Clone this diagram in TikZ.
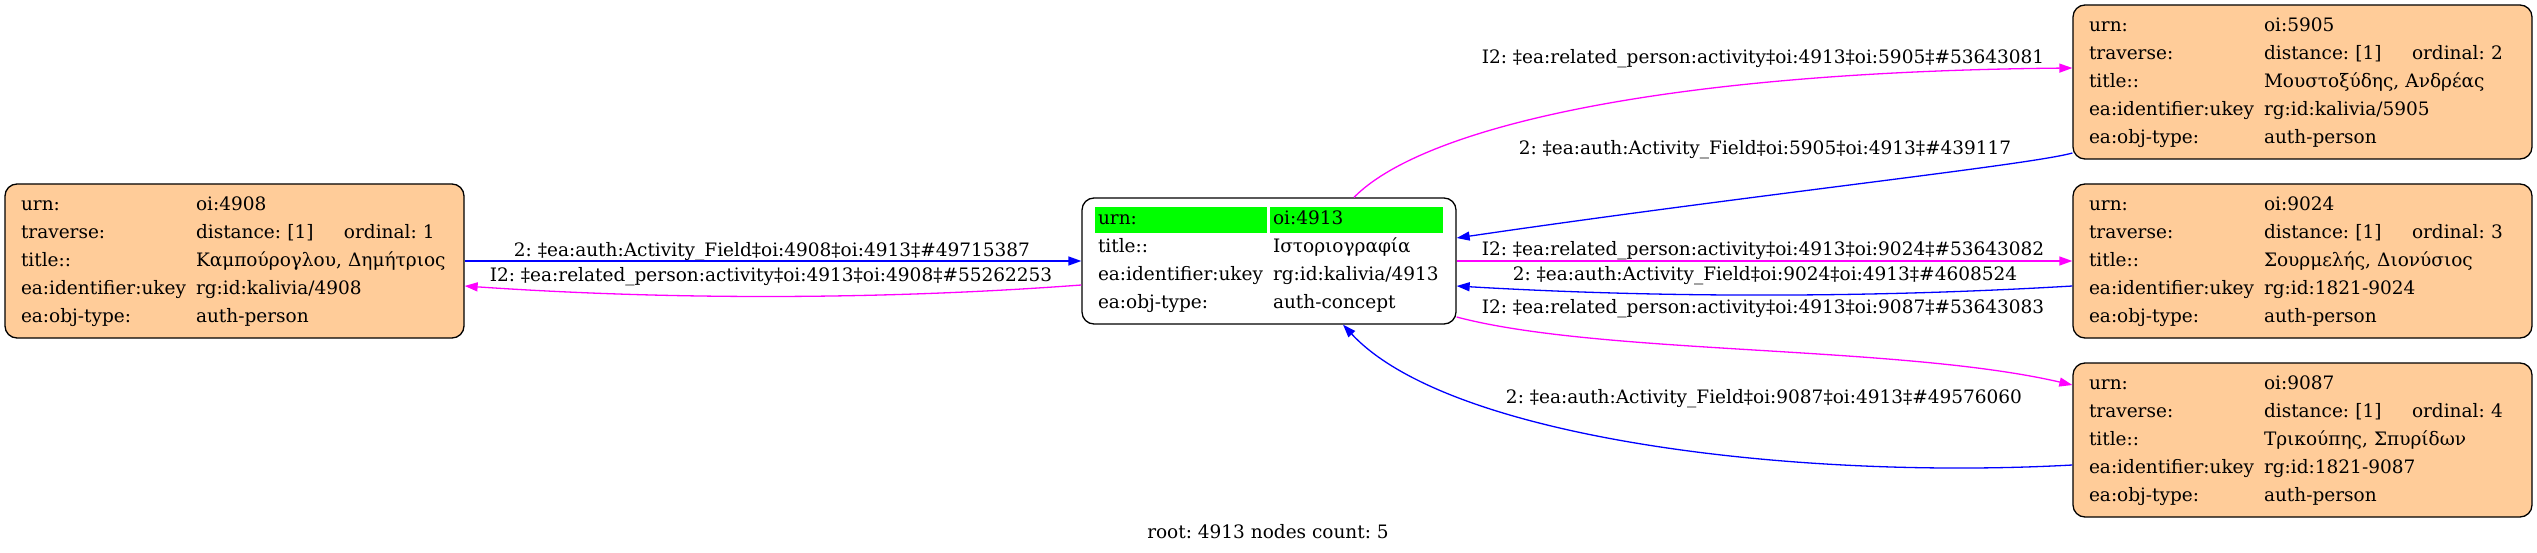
\documentclass[tikz,border=0pt]{standalone}
\usepackage{fontspec}
\setmainfont{DejaVu Serif}
\usepackage{tikz}
\usetikzlibrary{arrows.meta}

\definecolor{peach}{HTML}{FFCC99}
\definecolor{urngreen}{HTML}{00FF00}
\definecolor{authblue}{HTML}{0000FF}
\definecolor{relmagenta}{HTML}{FF00FF}

\newcommand{\gvfont}{\fontsize{18.5}{28}\selectfont\frenchspacing}
\newcommand{\urncell}[2]{\hspace*{-3pt}\colorbox{urngreen}{\rule[-8pt]{0pt}{26pt}\makebox[#1][l]{\hspace{3pt}#2}}}
\setlength{\fboxsep}{0pt}

\tikzset{
  person/.style={draw=black, fill=peach, line width=1.3pt, rounded corners=12pt,
    inner xsep=16pt, inner ysep=0pt, text width=427pt, minimum height=154pt, align=left},
  concept/.style={draw=black, fill=white, line width=1.3pt, rounded corners=12pt,
    inner xsep=16pt, inner ysep=0pt, text width=342pt, minimum height=126pt, align=left},
  rel/.style={draw=relmagenta, line width=1.3pt},
  auth/.style={draw=authblue, line width=1.3pt},
  lbl/.style={inner sep=0pt, anchor=base},
}

\begin{document}
\frenchspacing
\begin{tikzpicture}[x=1pt, y=-1pt, font=\gvfont, >={Triangle[length=13pt,width=9pt]}]
\useasboundingbox (0,0) rectangle (2537,553);

\node[person] (n4908) at (234.5,261) {\begin{tabular}{@{}p{175pt}@{}l@{}}
urn: & oi:4908\\
traverse: & \makebox[148pt][l]{distance: [1]}ordinal: 1\\
title:: & Καμπούρογλου, Δημήτριος\\
ea:identifier:ukey & rg:id:kalivia/4908\\
ea:obj-type: & auth-person
\end{tabular}};

\node[concept] (n4913) at (1269,261) {\begin{tabular}{@{}p{175pt}@{}l@{}}
\urncell{172pt}{urn:} & \urncell{173pt}{oi:4913}\\
title:: & Ιστοριογραφία\\
ea:identifier:ukey & rg:id:kalivia/4913\\
ea:obj-type: & auth-concept
\end{tabular}};

\node[person] (n5905) at (2302.5,82) {\begin{tabular}{@{}p{175pt}@{}l@{}}
urn: & oi:5905\\
traverse: & \makebox[148pt][l]{distance: [1]}ordinal: 2\\
title:: & Μουστοξύδης, Ανδρέας\\
ea:identifier:ukey & rg:id:kalivia/5905\\
ea:obj-type: & auth-person
\end{tabular}};

\node[person] (n9024) at (2302.5,261) {\begin{tabular}{@{}p{175pt}@{}l@{}}
urn: & oi:9024\\
traverse: & \makebox[148pt][l]{distance: [1]}ordinal: 3\\
title:: & Σουρμελής, Διονύσιος\\
ea:identifier:ukey & rg:id:1821-9024\\
ea:obj-type: & auth-person
\end{tabular}};

\node[person] (n9087) at (2302.5,440) {\begin{tabular}{@{}p{175pt}@{}l@{}}
urn: & oi:9087\\
traverse: & \makebox[148pt][l]{distance: [1]}ordinal: 4\\
title:: & Τρικούπης, Σπυρίδων\\
ea:identifier:ukey & rg:id:1821-9087\\
ea:obj-type: & auth-person
\end{tabular}};

% edge labels
\node[lbl] (l4908a) at (772,257) {2: ‡ea:auth:Activity\_Field‡oi:4908‡oi:4913‡\#49715387};
\node[lbl] (l4908r) at (771,282) {I2: ‡ea:related\_person:activity‡oi:4913‡oi:4908‡\#55262253};
\node[lbl] (l5905r) at (1763,63.5) {I2: ‡ea:related\_person:activity‡oi:4913‡oi:5905‡\#53643081};
\node[lbl] (l5905a) at (1765,154.5) {2: ‡ea:auth:Activity\_Field‡oi:5905‡oi:4913‡\#439117};
\node[lbl] (l9024r) at (1763,256) {I2: ‡ea:related\_person:activity‡oi:4913‡oi:9024‡\#53643082};
\node[lbl] (l9024a) at (1765,280) {2: ‡ea:auth:Activity\_Field‡oi:9024‡oi:4913‡\#4608524};
\node[lbl] (l9087r) at (1763,313) {I2: ‡ea:related\_person:activity‡oi:4913‡oi:9087‡\#53643083};
\node[lbl] (l9087a) at (1764,403.5) {2: ‡ea:auth:Activity\_Field‡oi:9087‡oi:4913‡\#49576060};

\node[lbl] (footer) at (1268,538.5) {root: 4913 nodes count: 5};

\draw[auth][->] (n4908.east) -- (n4913.west);
\draw[rel][->] ([yshift=-24pt]n4913.west) .. controls (880,300) and (670,300) .. ([yshift=-25pt]n4908.east);
\draw[rel][->] ([xshift=85pt]n4913.north) .. controls (1420,130) and (1650,72) .. ([yshift=14pt]n5905.west);
\draw[auth][->] ([yshift=-71pt]n5905.west) .. controls (2030,165) and (1750,195) .. ([yshift=23pt]n4913.east);
\draw[rel][->] (n4913.east) -- (n9024.west);
\draw[auth][->] ([yshift=-25pt]n9024.west) .. controls (1870,298) and (1660,298) .. ([yshift=-25pt]n4913.east);
\draw[rel][->] ([yshift=-56pt]n4913.east) .. controls (1600,355) and (1900,345) .. ([yshift=55pt]n9087.west);
\draw[auth][->] ([yshift=-25pt]n9087.west) .. controls (1800,480) and (1450,440) .. ([xshift=74pt]n4913.south);

\end{tikzpicture}
\end{document}
